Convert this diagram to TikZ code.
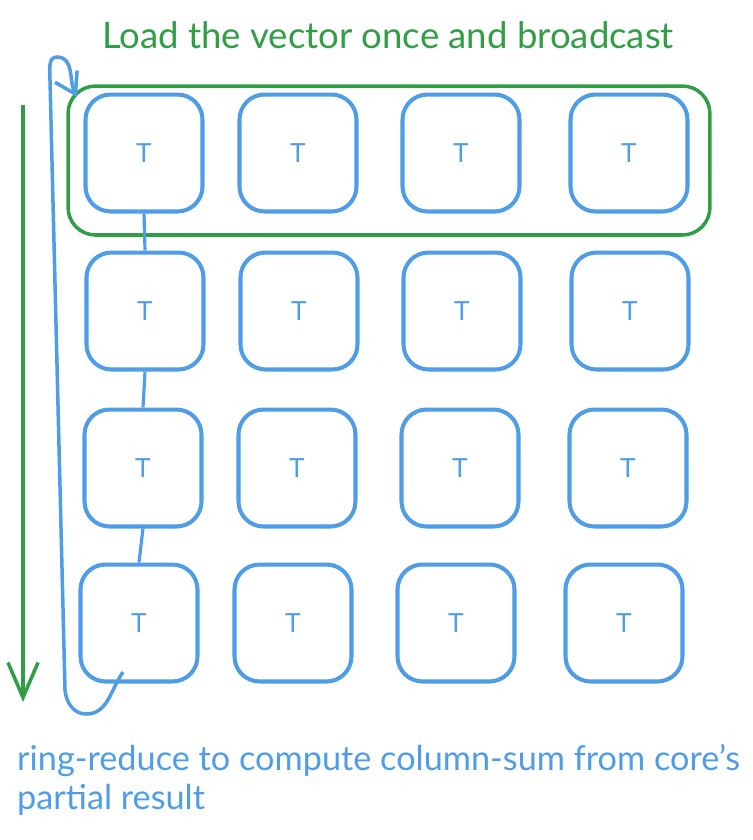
\documentclass[tikz,border=0pt]{standalone}
\usepackage{fontspec}
\setmainfont{Lato}
\usetikzlibrary{arrows.meta}
\definecolor{sketchblue}{RGB}{79,157,230}
\definecolor{sketchgreen}{RGB}{47,158,68}

\begin{document}
\begin{tikzpicture}[x=0.02cm,y=-0.02cm,
        tile/.style={draw=sketchblue,line width=2.3pt,rounded corners=0.5cm,
            minimum size=2.34cm,inner sep=0pt,text=sketchblue,
            font=\fontsize{15}{15}\selectfont},
        link/.style={draw=sketchblue,line width=1.8pt},
        bcastbox/.style={draw=sketchgreen,line width=2pt,rounded corners=0.55cm,
            minimum width=12.84cm,minimum height=2.98cm,inner sep=0pt},
        flow/.style={draw=sketchgreen,line width=2pt,
            -{Straight Barb[length=0.7cm,width=0.6cm,line width=2pt]}},
        ring/.style={draw=sketchblue,line width=2pt,
            -{Straight Barb[length=0.4cm,width=0.5cm,line width=2pt]}},
        caption/.style={font=\fontsize{19.5}{22}\selectfont}]
    \useasboundingbox (0,0) rectangle (753,840);
    % grid of cores
    \foreach \row/\y/\dx in {1/153/0,2/311/1,3/468/-1,4/623/-5}
        \foreach \col/\x in {1/144,2/298,3/461,4/629}
            \node[tile] (t\row\col) at (\x+\dx,\y) {T};
    % broadcast row
    \node[bcastbox] (bcast) at (389,160.5) {};
    \node[caption,text=sketchgreen,font=\fontsize{20.8}{22}\selectfont] (title) at (388,35)
        {Load the vector once and broadcast};
    % column links
    \draw[link] (t11.south) -- (t21.north);
    \draw[link] (t21.south) -- (t31.north);
    \draw[link] (t31.south) -- (t41.north);
    % flow down the columns
    \coordinate (flowtop) at (23,105);
    \coordinate (flowend) at (23,702);
    \draw[flow] (flowtop) -- (flowend);
    % ring reduce back to the top
    \coordinate (ringstart) at (123,672);
    \coordinate (ringend) at (77,97);
    \draw[ring] (ringstart) to[out=235,in=0] (86,714)
        to[out=180,in=-85] (65,690) -- (50,80)
        to[out=90,in=180] (57,57) to[out=0,in=118] (ringend);
    \node[caption,text=sketchblue,anchor=north west,align=left] (note) at (11,738)
        {ring-reduce to compute column-sum from core's\\partial result};
\end{tikzpicture}
\end{document}
